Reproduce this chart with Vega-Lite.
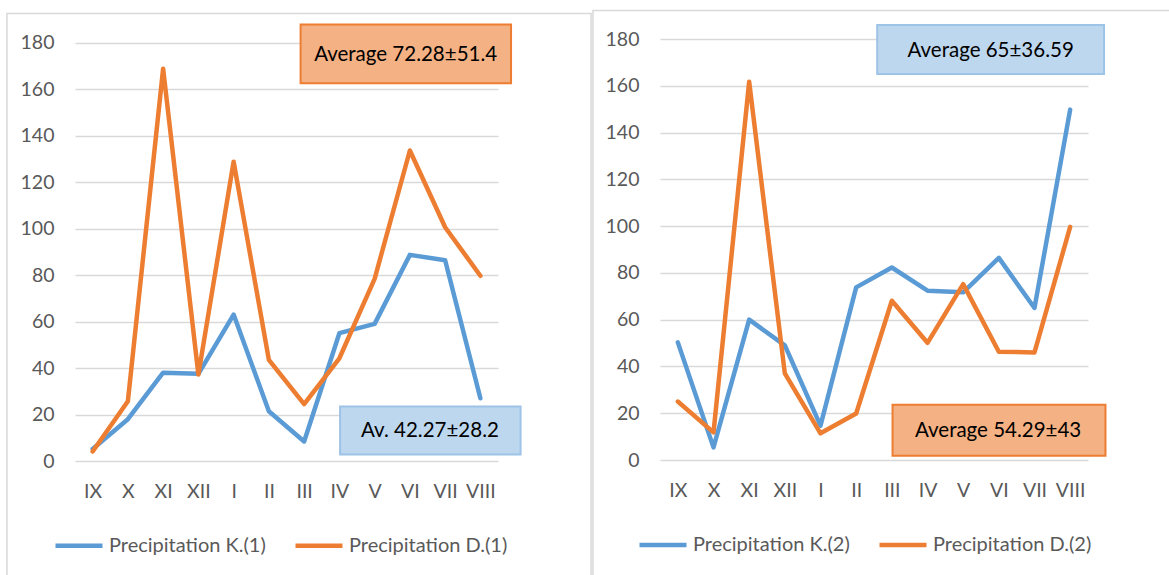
{
  "$schema": "https://vega.github.io/schema/vega-lite/v6.json",
  "background": "white",
  "padding": {"left": 6, "top": 9, "right": 0, "bottom": 0},
  "spacing": 0,
  "config": {
    "view": {"stroke": null},
    "font": "Lato",
    "axis": {"labelFont": "Lato", "labelFontSize": 19.5, "labelColor": "#595959", "ticks": false, "domain": false, "gridColor": "#D9D9D9", "gridWidth": 1.5, "title": null},
    "legend": {"labelFont": "Lato", "labelFontSize": 20, "labelColor": "#595959"}
  },
  "datasets": {
    "p1": [
      {"month": "IX", "series": "Precipitation K.(1)", "value": 5.2},
      {"month": "X", "series": "Precipitation K.(1)", "value": 18},
      {"month": "XI", "series": "Precipitation K.(1)", "value": 38},
      {"month": "XII", "series": "Precipitation K.(1)", "value": 37.5},
      {"month": "I", "series": "Precipitation K.(1)", "value": 63},
      {"month": "II", "series": "Precipitation K.(1)", "value": 21.4},
      {"month": "III", "series": "Precipitation K.(1)", "value": 8.4},
      {"month": "IV", "series": "Precipitation K.(1)", "value": 55},
      {"month": "V", "series": "Precipitation K.(1)", "value": 59},
      {"month": "VI", "series": "Precipitation K.(1)", "value": 88.7},
      {"month": "VII", "series": "Precipitation K.(1)", "value": 86.4},
      {"month": "VIII", "series": "Precipitation K.(1)", "value": 27},
      {"month": "IX", "series": "Precipitation D.(1)", "value": 4.1},
      {"month": "X", "series": "Precipitation D.(1)", "value": 25.7},
      {"month": "XI", "series": "Precipitation D.(1)", "value": 168.8},
      {"month": "XII", "series": "Precipitation D.(1)", "value": 37.2},
      {"month": "I", "series": "Precipitation D.(1)", "value": 128.8},
      {"month": "II", "series": "Precipitation D.(1)", "value": 43.5},
      {"month": "III", "series": "Precipitation D.(1)", "value": 24.5},
      {"month": "IV", "series": "Precipitation D.(1)", "value": 44.2},
      {"month": "V", "series": "Precipitation D.(1)", "value": 78.4},
      {"month": "VI", "series": "Precipitation D.(1)", "value": 133.6},
      {"month": "VII", "series": "Precipitation D.(1)", "value": 100.6},
      {"month": "VIII", "series": "Precipitation D.(1)", "value": 79.7}
    ],
    "p2": [
      {"month": "IX", "series": "Precipitation K.(2)", "value": 50.3},
      {"month": "X", "series": "Precipitation K.(2)", "value": 5.4},
      {"month": "XI", "series": "Precipitation K.(2)", "value": 60},
      {"month": "XII", "series": "Precipitation K.(2)", "value": 49},
      {"month": "I", "series": "Precipitation K.(2)", "value": 14.7},
      {"month": "II", "series": "Precipitation K.(2)", "value": 73.8},
      {"month": "III", "series": "Precipitation K.(2)", "value": 82.3},
      {"month": "IV", "series": "Precipitation K.(2)", "value": 72.4},
      {"month": "V", "series": "Precipitation K.(2)", "value": 71.7},
      {"month": "VI", "series": "Precipitation K.(2)", "value": 86.4},
      {"month": "VII", "series": "Precipitation K.(2)", "value": 65},
      {"month": "VIII", "series": "Precipitation K.(2)", "value": 149.8},
      {"month": "IX", "series": "Precipitation D.(2)", "value": 25},
      {"month": "X", "series": "Precipitation D.(2)", "value": 11.8},
      {"month": "XI", "series": "Precipitation D.(2)", "value": 161.7},
      {"month": "XII", "series": "Precipitation D.(2)", "value": 37},
      {"month": "I", "series": "Precipitation D.(2)", "value": 11.4},
      {"month": "II", "series": "Precipitation D.(2)", "value": 19.9},
      {"month": "III", "series": "Precipitation D.(2)", "value": 68.1},
      {"month": "IV", "series": "Precipitation D.(2)", "value": 50.1},
      {"month": "V", "series": "Precipitation D.(2)", "value": 75.2},
      {"month": "VI", "series": "Precipitation D.(2)", "value": 46.3},
      {"month": "VII", "series": "Precipitation D.(2)", "value": 46},
      {"month": "VIII", "series": "Precipitation D.(2)", "value": 99.7}
    ]
  },
  "hconcat": [
    {
      "width": 423,
      "height": 422,
      "resolve": {"scale": {"x": "independent"}},
      "layer": [
        {
          "data": {"values": [{"frame": "chart 1"}]},
          "mark": {"type": "rect", "fill": null, "stroke": "#D9D9D9", "strokeWidth": 1.5},
          "encoding": {
            "x": {"datum": -1.93, "type": "quantitative", "scale": {"domain": [0, 12], "nice": false, "zero": false}, "axis": null},
            "x2": {"datum": 14.64},
            "y": {"datum": 192.6, "type": "quantitative", "scale": {"domain": [0, 180], "nice": false, "range": [422, 3.7]}},
            "y2": {"datum": -60}
          }
        },
        {
          "data": {"name": "p1"},
          "mark": {"type": "line", "strokeWidth": 4.5, "strokeJoin": "round", "strokeCap": "round"},
          "encoding": {
            "x": {"field": "month", "type": "ordinal", "sort": ["IX","X","XI","XII","I","II","III","IV","V","VI","VII","VIII"], "scale": {"type": "point", "padding": 0.5}, "axis": {"labelPadding": 21, "labelAngle": 0, "grid": false}},
            "y": {"field": "value", "type": "quantitative", "scale": {"domain": [0, 180], "nice": false, "range": [422, 3.7]}, "axis": {"values": [0,20,40,60,80,100,120,140,160,180], "labelPadding": 21, "grid": true}},
            "color": {"field": "series", "type": "nominal", "scale": {"domain": ["Precipitation K.(1)", "Precipitation D.(1)"], "range": ["#5B9BD5", "#ED7D31"]},
              "legend": {"orient": "none", "legendX": -22, "legendY": 480.7, "direction": "horizontal", "title": null, "symbolType": "stroke", "symbolSize": 2209, "symbolStrokeWidth": 4.5, "columnPadding": 20, "padding": 0, "labelLimit": 300, "labelOffset": 4}}
          }
        },
        {
          "data": {"values": [{"label": "Average 72.28±51.4"}]},
          "mark": {"type": "rect", "fill": "#F4B183", "stroke": "#ED7D31", "strokeWidth": 2},
          "encoding": {
            "x": {"datum": 6.4, "type": "quantitative", "scale": {"domain": [0, 12], "nice": false, "zero": false}, "axis": null},
            "x2": {"datum": 12.37},
            "y": {"datum": 187.8, "type": "quantitative", "scale": {"domain": [0, 180], "nice": false, "range": [422, 3.7]}},
            "y2": {"datum": 162.6}
          }
        },
        {
          "data": {"values": [{"label": "Average 72.28±51.4"}]},
          "mark": {"type": "text", "fontSize": 20.5, "font": "Lato", "color": "#000000", "align": "center", "baseline": "middle"},
          "encoding": {
            "x": {"datum": 9.38, "type": "quantitative", "scale": {"domain": [0, 12], "nice": false, "zero": false}, "axis": null},
            "y": {"datum": 174.5, "type": "quantitative", "scale": {"domain": [0, 180], "nice": false, "range": [422, 3.7]}},
            "text": {"field": "label"}
          }
        },
        {
          "data": {"values": [{"label": "Av. 42.27±28.2"}]},
          "mark": {"type": "rect", "fill": "#BDD7EE", "stroke": "#9DC3E6", "strokeWidth": 2},
          "encoding": {
            "x": {"datum": 7.52, "type": "quantitative", "scale": {"domain": [0, 12], "nice": false, "zero": false}, "axis": null},
            "x2": {"datum": 12.64},
            "y": {"datum": 23.4, "type": "quantitative", "scale": {"domain": [0, 180], "nice": false, "range": [422, 3.7]}},
            "y2": {"datum": 2.84}
          }
        },
        {
          "data": {"values": [{"label": "Av. 42.27±28.2"}]},
          "mark": {"type": "text", "fontSize": 20.5, "font": "Lato", "color": "#000000", "align": "center", "baseline": "middle"},
          "encoding": {
            "x": {"datum": 10.07, "type": "quantitative", "scale": {"domain": [0, 12], "nice": false, "zero": false}, "axis": null},
            "y": {"datum": 12.7, "type": "quantitative", "scale": {"domain": [0, 180], "nice": false, "range": [422, 3.7]}},
            "text": {"field": "label"}
          }
        }
      ]
    },
    {
      "width": 428,
      "height": 421,
      "resolve": {"scale": {"x": "independent"}},
      "layer": [
        {
          "data": {"values": [{"frame": "chart 2"}]},
          "mark": {"type": "rect", "fill": null, "stroke": "#D9D9D9", "strokeWidth": 1.5},
          "encoding": {
            "x": {"datum": -1.88, "type": "quantitative", "scale": {"domain": [0, 12], "nice": false, "zero": false}, "axis": null},
            "x2": {"datum": 14.44},
            "y": {"datum": 192.2, "type": "quantitative", "scale": {"domain": [0, 180], "nice": false}},
            "y2": {"datum": -60}
          }
        },
        {
          "data": {"name": "p2"},
          "mark": {"type": "line", "strokeWidth": 4.5, "strokeJoin": "round", "strokeCap": "round"},
          "encoding": {
            "x": {"field": "month", "type": "ordinal", "sort": ["IX","X","XI","XII","I","II","III","IV","V","VI","VII","VIII"], "scale": {"type": "point", "padding": 0.5}, "axis": {"labelPadding": 21, "labelAngle": 0, "grid": false}},
            "y": {"field": "value", "type": "quantitative", "scale": {"domain": [0, 180], "nice": false}, "axis": {"values": [0,20,40,60,80,100,120,140,160,180], "labelPadding": 21, "grid": true}},
            "color": {"field": "series", "type": "nominal", "scale": {"domain": ["Precipitation K.(2)", "Precipitation D.(2)"], "range": ["#5B9BD5", "#ED7D31"]},
              "legend": {"orient": "none", "legendX": -23, "legendY": 480, "direction": "horizontal", "title": null, "symbolType": "stroke", "symbolSize": 2209, "symbolStrokeWidth": 4.5, "columnPadding": 20, "padding": 0, "labelLimit": 300, "labelOffset": 4}}
          }
        },
        {
          "data": {"values": [{"label": "Average 65±36.59"}]},
          "mark": {"type": "rect", "fill": "#BDD7EE", "stroke": "#9DC3E6", "strokeWidth": 2},
          "encoding": {
            "x": {"datum": 6.09, "type": "quantitative", "scale": {"domain": [0, 12], "nice": false, "zero": false}, "axis": null},
            "x2": {"datum": 12.45},
            "y": {"datum": 186, "type": "quantitative", "scale": {"domain": [0, 180], "nice": false}},
            "y2": {"datum": 165}
          }
        },
        {
          "data": {"values": [{"label": "Average 65±36.59"}]},
          "mark": {"type": "text", "fontSize": 20.5, "font": "Lato", "color": "#000000", "align": "center", "baseline": "middle"},
          "encoding": {
            "x": {"datum": 9.27, "type": "quantitative", "scale": {"domain": [0, 12], "nice": false, "zero": false}, "axis": null},
            "y": {"datum": 175, "type": "quantitative", "scale": {"domain": [0, 180], "nice": false}},
            "text": {"field": "label"}
          }
        },
        {
          "data": {"values": [{"label": "Average 54.29±43"}]},
          "mark": {"type": "rect", "fill": "#F4B183", "stroke": "#ED7D31", "strokeWidth": 2},
          "encoding": {
            "x": {"datum": 6.52, "type": "quantitative", "scale": {"domain": [0, 12], "nice": false, "zero": false}, "axis": null},
            "x2": {"datum": 12.49},
            "y": {"datum": 23.6, "type": "quantitative", "scale": {"domain": [0, 180], "nice": false}},
            "y2": {"datum": 1.84}
          }
        },
        {
          "data": {"values": [{"label": "Average 54.29±43"}]},
          "mark": {"type": "text", "fontSize": 20.5, "font": "Lato", "color": "#000000", "align": "center", "baseline": "middle"},
          "encoding": {
            "x": {"datum": 9.48, "type": "quantitative", "scale": {"domain": [0, 12], "nice": false, "zero": false}, "axis": null},
            "y": {"datum": 12.2, "type": "quantitative", "scale": {"domain": [0, 180], "nice": false}},
            "text": {"field": "label"}
          }
        }
      ]
    }
  ],
  "resolve": {"scale": {"color": "independent"}, "legend": {"color": "independent"}}
}
